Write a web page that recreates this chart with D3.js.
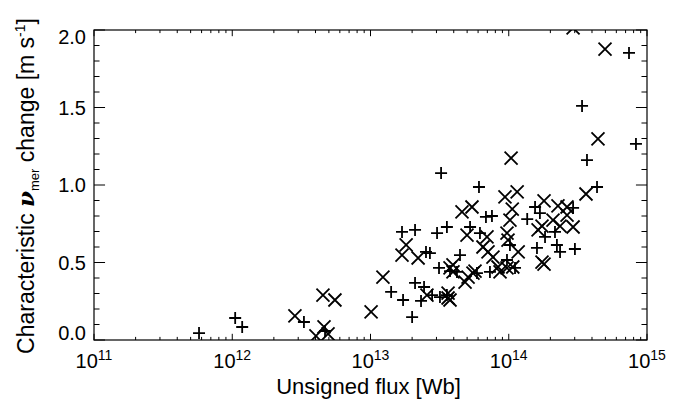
<!DOCTYPE html>
<html>
<head>
<meta charset="utf-8">
<script src="https://cdn.jsdelivr.net/npm/d3@7"></script>
<style>
  body { margin: 0; background: #fff; }
  svg { display: block; font-family: "Liberation Sans", Arial, sans-serif; }
  .frame { fill: none; stroke: #000; stroke-width: 1.2; }
  .mark { stroke: #000; stroke-width: 1.8; fill: none; }
</style>
</head>
<body>
<div id="chart"></div>
<script>
(function () {
  // "+" symbols: unsigned flux [Wb] and speed change [m/s]
  const plusFlux = [
    5.75e11, 1.05e12, 1.18e12, 3.3e12, 4.69e12, 2.0e13, 1.41e13, 1.72e13,
    2.1e13, 2.32e13, 2.44e13, 2.79e13, 3.18e13, 3.57e13, 3.13e13, 3.76e13,
    4.44e13, 2.52e13, 2.69e13, 3.24e13, 1.69e13, 2.1e13, 3.03e13, 3.57e13,
    5.25e13, 6.09e13, 6.84e13, 7.56e13, 1.36e14, 1.55e14, 1.68e14, 2.92e14,
    1.83e14, 2.16e14, 2.23e14, 1.6e14, 2.35e14, 3.01e14, 1.02e14, 6.19e13,
    1.11e14, 9.71e13, 7.31e13, 4.22e13, 5.89e13, 3.39e14, 7.41e14, 8.32e14,
    3.68e14, 4.35e14,
  ];
  const plusSpeed = [
    0.045, 0.142, 0.084, 0.116, 0.058, 0.148, 0.31, 0.258,
    0.368, 0.252, 0.342, 0.29, 0.277, 0.29, 0.465, 0.445,
    0.548, 0.568, 0.561, 1.077, 0.697, 0.71, 0.69, 0.729,
    0.729, 0.987, 0.794, 0.8, 0.78, 0.858, 0.819, 0.852,
    0.665, 0.697, 0.613, 0.594, 0.568, 0.587, 0.613, 0.69,
    0.465, 0.516, 0.439, 0.439, 0.432, 1.51, 1.852, 1.265,
    1.161, 0.987,
  ];

  // "x" symbols
  const crossFlux = [
    2.84e12, 4.53e12, 5.53e12, 4.03e12, 4.61e12, 4.93e12, 1.01e13, 1.23e13,
    2.56e13, 3.64e13, 3.64e13, 3.76e13, 3.95e13, 4.83e13, 5.08e13, 5.51e13,
    1.69e13, 2.21e13, 4.59e13, 5.42e13, 4.99e13, 1.81e13, 1.04e14, 4.42e14,
    4.97e14, 2.92e14, 3.62e14, 1.15e14, 9.39e13, 1.06e14, 1.02e14, 1.8e14,
    2.27e14, 2.64e14, 2.09e14, 1.63e14, 1.74e14, 2.35e14, 2.64e14, 2.92e14,
    1.74e14, 1.8e14, 9.71e13, 9.88e13, 1.17e14, 6.96e13, 6.51e13, 7.08e13,
    7.69e13, 8.36e13, 8.65e13, 9.71e13, 1.07e14, 3.95e13, 5.7e13, 3.76e13,
  ];
  const crossSpeed = [
    0.155, 0.29, 0.258, 0.026, 0.084, 0.039, 0.181, 0.406,
    0.29, 0.271, 0.303, 0.465, 0.484, 0.374, 0.406, 0.432,
    0.548, 0.529, 0.826, 0.858, 0.677, 0.613, 1.174, 1.297,
    1.877, 2.013, 0.942, 0.955, 0.923, 0.845, 0.774, 0.897,
    0.865, 0.858, 0.774, 0.71, 0.735, 0.735, 0.806, 0.729,
    0.503, 0.49, 0.69, 0.645, 0.568, 0.665, 0.6, 0.568,
    0.535, 0.471, 0.439, 0.465, 0.471, 0.439, 0.445, 0.258,
  ];

  const xTicks = [1e11, 1e12, 1e13, 1e14, 1e15];
  const yTicks = [0, 0.5, 1.0, 1.5, 2.0];

  const W = 685, H = 402;
  const margin = { top: 30, right: 38, bottom: 62, left: 94 };
  const width = W - margin.left - margin.right;
  const height = H - margin.top - margin.bottom;

  const svg = d3.select("#chart").append("svg")
    .attr("width", W).attr("height", H);

  const g = svg.append("g")
    .attr("transform", `translate(${margin.left},${margin.top})`);

  const x = d3.scaleLog().domain([1e11, 1e15]).range([0, width]);
  const y = d3.scaleLinear().domain([0, 2]).range([height, 0]);

  // minor ticks: 2..9 per decade, 0.1 steps on y
  const xMinor = [];
  for (let e = 11; e < 15; e++) for (let k = 2; k < 10; k++) xMinor.push(k * Math.pow(10, e));
  const yMinor = d3.range(0, 2.0001, 0.1).filter((v) => Math.abs(v * 2 - Math.round(v * 2)) > 1e-6);

  const xLen = height * 0.02, yLen = width * 0.02;

  function drawXTicks(vals, len) {
    g.selectAll(null).data(vals).enter().append("line")
      .attr("x1", (d) => x(d)).attr("x2", (d) => x(d))
      .attr("y1", height).attr("y2", height - len)
      .attr("stroke", "#000");
    g.selectAll(null).data(vals).enter().append("line")
      .attr("x1", (d) => x(d)).attr("x2", (d) => x(d))
      .attr("y1", 0).attr("y2", len)
      .attr("stroke", "#000");
  }
  drawXTicks(xTicks, xLen);
  drawXTicks(xMinor, xLen / 2);

  function drawYTicks(vals, len) {
    g.selectAll(null).data(vals).enter().append("line")
      .attr("x1", 0).attr("x2", len)
      .attr("y1", (d) => y(d)).attr("y2", (d) => y(d))
      .attr("stroke", "#000");
    g.selectAll(null).data(vals).enter().append("line")
      .attr("x1", width).attr("x2", width - len)
      .attr("y1", (d) => y(d)).attr("y2", (d) => y(d))
      .attr("stroke", "#000");
  }
  drawYTicks(yTicks, yLen);
  drawYTicks(yMinor, yLen / 2);

  g.append("rect").attr("class", "frame")
    .attr("x", 0).attr("y", 0).attr("width", width).attr("height", height);

  // x tick labels (10^n)
  const xl = g.selectAll(null).data(xTicks).enter().append("text")
    .attr("x", (d) => x(d)).attr("y", height + 28)
    .attr("text-anchor", "middle")
    .style("font-size", "20px");
  xl.append("tspan").text("10");
  xl.append("tspan").attr("dy", -8).style("font-size", "14px")
    .text((d) => Math.round(Math.log10(d)));

  // y tick labels, kept inside the frame at the ends
  g.selectAll(null).data(yTicks).enter().append("text")
    .attr("x", -8)
    .attr("y", (d) => Math.min(height - 7, Math.max(7, y(d))))
    .attr("dy", "0.36em")
    .attr("text-anchor", "end")
    .style("font-size", "20px")
    .text((d) => d.toFixed(1));

  // markers, clipped to the frame
  svg.append("clipPath").attr("id", "plot-clip")
    .append("rect").attr("width", width).attr("height", height);
  const marks = g.append("g").attr("clip-path", "url(#plot-clip)");

  const p = 6, c = 6.5;
  marks.selectAll("path.plus").data(plusFlux).enter().append("path")
    .attr("class", "mark plus")
    .attr("d", (d, i) => {
      const px = x(d), py = y(plusSpeed[i]);
      return `M${px - p},${py}H${px + p}M${px},${py - p}V${py + p}`;
    });
  marks.selectAll("path.cross").data(crossFlux).enter().append("path")
    .attr("class", "mark cross")
    .attr("d", (d, i) => {
      const px = x(d), py = y(crossSpeed[i]);
      return `M${px - c},${py - c}L${px + c},${py + c}M${px - c},${py + c}L${px + c},${py - c}`;
    });

  // axis titles
  svg.append("text")
    .attr("x", margin.left + width / 2 - 2).attr("y", 394)
    .attr("text-anchor", "middle")
    .style("font-size", "22px")
    .text("Unsigned flux [Wb]");

  const yt = svg.append("text")
    .attr("transform", `translate(34,${margin.top + height / 2 + 1}) rotate(-90)`)
    .attr("text-anchor", "middle")
    .style("font-size", "23px");
  yt.append("tspan").text("Characteristic ");
  yt.append("tspan").style("font-weight", "bold").style("font-style", "italic")
    .style("font-family", "'DejaVu Serif', serif").text("\u03BD");
  yt.append("tspan").attr("dy", 5).style("font-size", "13px").text("mer");
  yt.append("tspan").attr("dy", -5).text(" change [m s");
  yt.append("tspan").attr("dy", -9).style("font-size", "14px").text("-1");
  yt.append("tspan").attr("dy", 9).text("]");
})();
</script>
</body>
</html>
